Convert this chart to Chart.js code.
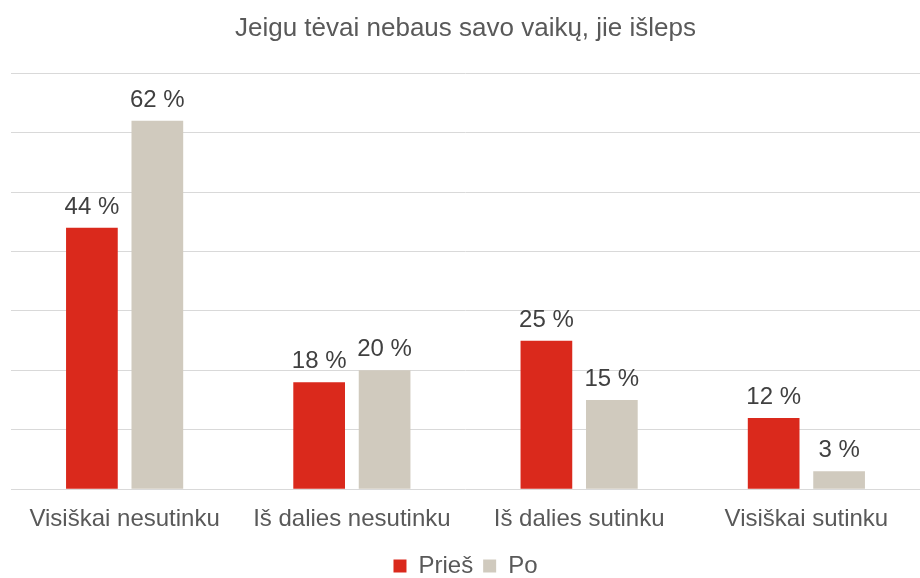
<!DOCTYPE html>
<html lang="lt">
<head>
  <meta charset="UTF-8" />
  <title>Jeigu tėvai nebaus savo vaikų, jie išleps</title>
  <script src="https://cdn.jsdelivr.net/npm/chart.js"></script>
  <style>
    html, body { margin: 0; padding: 0; background: #fff; }
    #wrap { width: 920px; height: 578px; }
  </style>
</head>
<body>
  <div id="wrap"><canvas id="chart" width="920" height="578"></canvas></div>

  <script>
    const categories = ["Visiškai nesutinku", "Iš dalies nesutinku", "Iš dalies sutinku", "Visiškai sutinku"];
    const seriesNames = ["Prieš", "Po"];
    const before = [44, 18, 25, 12];
    const after = [62, 20, 15, 3];

    const FONT = "'Liberation Sans', Arial, sans-serif";

    // labels above bars, e.g. "62 %"
    const barLabels = {
      id: "barLabels",
      afterDatasetsDraw(chart) {
        const ctx = chart.ctx;
        ctx.save();
        ctx.font = "24px " + FONT;
        ctx.fillStyle = "#404040";
        ctx.textAlign = "center";
        ctx.textBaseline = "alphabetic";
        chart.data.datasets.forEach((ds, i) => {
          chart.getDatasetMeta(i).data.forEach((bar, j) => {
            ctx.fillText(ds.data[j] + " %", bar.x, bar.y - 14);
          });
        });
        ctx.restore();
      }
    };

    new Chart(document.getElementById("chart"), {
      type: "bar",
      data: {
        labels: categories,
        datasets: [
          { label: seriesNames[0], data: before, backgroundColor: "#da291c" },
          { label: seriesNames[1], data: after, backgroundColor: "#d0cabe" }
        ]
      },
      options: {
        responsive: false,
        animation: false,
        devicePixelRatio: 1,
        layout: { padding: { left: 11, right: 0, top: 0, bottom: -10 } },
        datasets: { bar: { categoryPercentage: 0.576, barPercentage: 0.79 } },
        scales: {
          x: {
            afterFit: s => { s.height += 2; },
            grid: { display: false },
            border: { display: false },
            ticks: {
              color: "#595959",
              font: { family: FONT, size: 24 },
              padding: 8
            }
          },
          y: {
            min: 0,
            max: 70,
            afterFit: s => { s.width = 0; },
            grid: { color: "#d9d9d9", lineWidth: 1, drawTicks: false },
            border: { display: false },
            ticks: { display: false, stepSize: 10 }
          }
        },
        plugins: {
          title: {
            display: true,
            text: "Jeigu tėvai nebaus savo vaikų, jie išleps",
            color: "#595959",
            font: { family: FONT, size: 26, weight: "normal" },
            padding: { top: 13, bottom: 29 }
          },
          legend: {
            position: "bottom",
            labels: {
              color: "#595959",
              font: { family: FONT, size: 24 },
              boxWidth: 13,
              boxHeight: 13,
              padding: 10
            }
          },
          tooltip: { enabled: false }
        }
      },
      plugins: [barLabels]
    });
  </script>
</body>
</html>
